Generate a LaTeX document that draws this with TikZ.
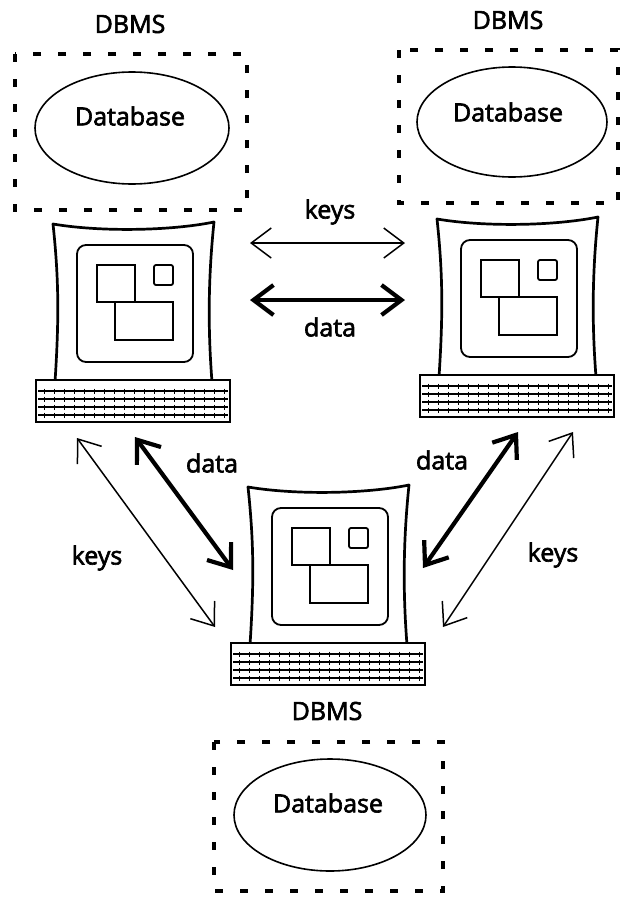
\documentclass[tikz,border=0pt]{standalone}
\usepackage{fontspec}
\setmainfont{Open Sans}
\newfontfamily\lblfont{Open Sans}[FakeBold=2.5]
\usetikzlibrary{arrows.meta,shapes.geometric}
\begin{document}
\begin{tikzpicture}[x=1pt,y=-1pt,
  lbl/.style={font=\lblfont\fontsize{25}{28}\selectfont, inner sep=0pt},
  dbox/.style={line width=3.8pt, dash pattern=on 8pt off 17pt},
  dbellipse/.style={draw, ellipse, line width=1.6pt, inner sep=0pt},
  thinarrow/.style={line width=1.5pt, {Straight Barb[length=20pt,width=30pt]}-{Straight Barb[length=20pt,width=30pt]}},
  thickarrow/.style={line width=4.2pt, {Straight Barb[length=20pt,width=30pt]}-{Straight Barb[length=20pt,width=30pt]}},
  computer/.pic={
    % monitor casing with slightly concave sides
    \draw[line width=2.7pt, line join=round]
      (55,382) .. controls (59,320) and (59,280) .. (53,224)
      .. controls (100,232) and (170,231) .. (214,222)
      .. controls (208,280) and (208,330) .. (212,382);
    % screen and windows
    \draw[line width=1.8pt, rounded corners=9pt] (77,245) rectangle (193,362);
    \draw[line width=1.8pt] (97,265) rectangle (135,302);
    \draw[line width=1.8pt] (115,302) rectangle (173,340);
    \draw[line width=1.8pt, rounded corners=2pt] (154,265) rectangle (173,285);
    % keyboard
    \filldraw[fill=white, line width=2.7pt] (36,380) rectangle (230,422);
    \foreach \yy in {391,399,407,415} {
      \draw[line width=1.5pt] (38,\yy) -- (228,\yy);
      \foreach \xx in {44,54,...,224} \draw[line width=1pt] (\xx,\yy-2.5) -- (\xx,\yy+2.5);
    }
  }]
\useasboundingbox (0,0) rectangle (623,897);

% database sites
\node[lbl] (dbmsA) at (130,24) {DBMS};
\draw[dbox] (15,54) rectangle (247,210);
\node[dbellipse, minimum width=194pt, minimum height=112pt] (dbA) at (132,128) {};
\node[lbl] (txtA) at (130,116) {Database};

\node[lbl] (dbmsB) at (508,20) {DBMS};
\draw[dbox] (399,50) rectangle (618,203);
\node[dbellipse, minimum width=190pt, minimum height=110pt] (dbB) at (512,122) {};
\node[lbl] (txtB) at (508,112) {Database};

\node[lbl] (dbmsC) at (327,711) {DBMS};
\draw[dbox] (214,742) rectangle (443,891);
\node[dbellipse, minimum width=192pt, minimum height=112pt] (dbC) at (330,815) {};
\node[lbl] (txtC) at (328,803) {Database};

% workstations
\pic at (0,0) {computer};
\pic at (384,-5) {computer};
\pic at (195,263) {computer};

% connector end points
\coordinate (hk1) at (250,243); \coordinate (hk2) at (405,243);
\coordinate (hd1) at (250,300); \coordinate (hd2) at (405,300);
\coordinate (lk1) at (77,438);  \coordinate (lk2) at (215,627);
\coordinate (ld1) at (135,437); \coordinate (ld2) at (233,570);
\coordinate (rd1) at (518,432); \coordinate (rd2) at (423,568);
\coordinate (rk1) at (573,432); \coordinate (rk2) at (443,627);

\draw[thinarrow] (hk1) -- (hk2);
\draw[thickarrow] (hd1) -- (hd2);
\draw[thinarrow] (lk1) -- (lk2);
\draw[thickarrow] (ld1) -- (ld2);
\draw[thickarrow] (rd1) -- (rd2);
\draw[thinarrow] (rk1) -- (rk2);

\node[lbl] (lblhk) at (330,212) {keys};
\node[lbl] (lblhd) at (330,327) {data};
\node[lbl] (lbllk) at (97,558) {keys};
\node[lbl] (lblld) at (212,463) {data};
\node[lbl] (lblrd) at (442,460) {data};
\node[lbl] (lblrk) at (553,555) {keys};
\end{tikzpicture}
\end{document}
